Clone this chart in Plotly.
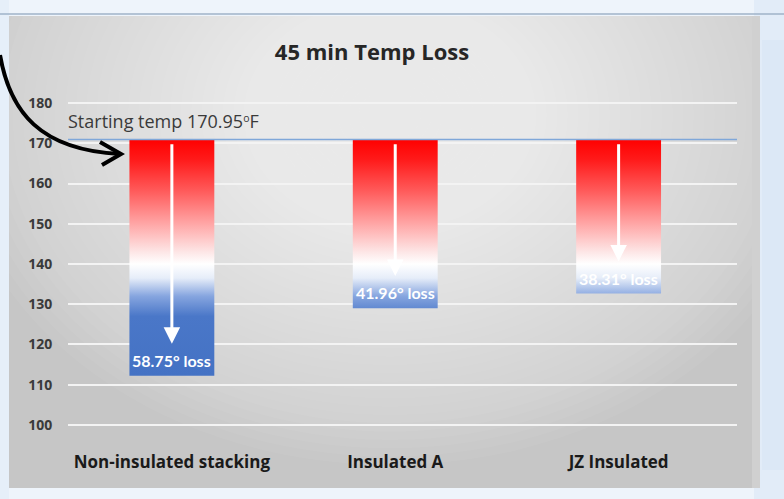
import plotly.graph_objects as go

# data
categories = ["Non-insulated stacking", "Insulated A", "JZ Insulated"]
start_temp = 170.95
temp_loss = [58.75, 41.96, 38.31]
end_temps = [round(start_temp - v, 2) for v in temp_loss]
y_ticks = [100, 110, 120, 130, 140, 150, 160, 170, 180]

W, H = 784, 499
M = dict(l=68, r=47, t=83, b=54)
FONT = "Open Sans"


def pp(x, y):
    """pixel -> paper coords (for decorations only)"""
    pw = W - M["l"] - M["r"]
    ph = H - M["t"] - M["b"]
    return (x - M["l"]) / pw, (H - M["b"] - y) / ph


def rect(x0, y0, x1, y1, color, opacity=1.0):
    a, b = pp(x0, y1)
    c, d = pp(x1, y0)
    return dict(type="rect", xref="paper", yref="paper", x0=a, y0=b, x1=c, y1=d,
                fillcolor=color, opacity=opacity, line_width=0, layer="below")


# gradient stops by temperature (red hot -> white -> blue)
lo, hi = min(end_temps), start_temp
grad_stops = [
    (lo, "#4472c4"), (127, "#4a77c8"), (132, "#86a5df"), (136.5, "#e6edf9"),
    (140, "#ffffff"), (143, "#fde6e6"), (150, "#ffa6a6"), (158, "#ff5c5c"),
    (166, "#ff1a1a"), (hi, "#ff0000"),
]
colorscale = [[(t - lo) / (hi - lo), c] for t, c in grad_stops]

fig = go.Figure()

bar_w = 0.38
for i, (cat, end) in enumerate(zip(categories, end_temps)):
    x0, x1 = i - bar_w / 2, i + bar_w / 2
    fig.add_trace(go.Scatter(
        x=[x0, x1, x1, x0, x0], y=[end, end, start_temp, start_temp, end],
        mode="lines", fill="toself", name=cat,
        line=dict(width=0, color="rgba(0,0,0,0)"),
        fillgradient=dict(type="vertical", colorscale=colorscale, start=lo, stop=hi),
        hoverinfo="skip", showlegend=False,
    ))

shapes = []
# panel background with soft highlight
shapes.append(rect(9, 16, 754, 488, "#c6c6c6"))
n_glow = 40
for k in range(n_glow):
    f = 1 - k / (n_glow + 2)
    cx, cy = 390, 115
    rx, ry = 440 * f, 350 * f
    a, b = pp(cx - rx, cy + ry)
    c, d = pp(cx + rx, cy - ry)
    shapes.append(dict(type="circle", xref="paper", yref="paper", x0=a, y0=b, x1=c, y1=d,
                       fillcolor="white", opacity=0.042, line_width=0, layer="below"))
# outer window frame
shapes += [
    rect(-10, -10, 800, 16, "#eef4fb"),
    rect(-10, 488, 800, 510, "#eef4fb"),
    rect(-10, -10, 9, 510, "#e6eff9"),
    rect(754, -10, 800, 510, "#e2ecf8"),
    rect(752, 16, 760, 488, "#d0d0d0"),
    rect(762, 40, 784, 470, "#dce8f6"),
]
a, b = pp(0, 14)
c, _ = pp(784, 14)
shapes.append(dict(type="line", xref="paper", yref="paper", x0=a, y0=b, x1=c, y1=b,
                   line=dict(color="#9fb3c8", width=1.5), layer="below"))

# starting temperature line
shapes.append(dict(type="line", xref="paper", yref="paper", x0=0, x1=1, y0=0, y1=0,
                   line=dict(color="#7fa7d9", width=1.5)))
shapes[-1].update(yref="y", y0=start_temp, y1=start_temp)

# hand-drawn pointer arrow
pts = [pp(0, 55), pp(10, 112), pp(40, 150), pp(120, 154)]
path = "M {:.4f},{:.4f} C {:.4f},{:.4f} {:.4f},{:.4f} {:.4f},{:.4f}".format(*[v for p in pts for v in p])
shapes.append(dict(type="path", xref="paper", yref="paper", path=path,
                   line=dict(color="black", width=4)))
hd = [pp(100, 142), pp(121, 154), pp(102, 165)]
head = "M {:.4f},{:.4f} L {:.4f},{:.4f} L {:.4f},{:.4f}".format(*[v for p in hd for v in p])
shapes.append(dict(type="path", xref="paper", yref="paper", path=head,
                   line=dict(color="black", width=4)))

annotations = [
    dict(x=0, xref="paper", y=start_temp, yref="y", xanchor="left", yanchor="bottom",
         xshift=-2, yshift=5, showarrow=False,
         text="Starting temp 170.95<span style='font-size:15px'><sup>o</sup></span>F",
         font=dict(family=FONT, size=18, color="#3a3a3a")),
]
for i, (loss, end) in enumerate(zip(temp_loss, end_temps)):
    annotations.append(dict(
        x=i, y=end + 8, ax=i, ay=start_temp - 0.8, xref="x", yref="y", axref="x", ayref="y",
        showarrow=True, arrowhead=2, arrowsize=1.1, arrowwidth=3, arrowcolor="white", text="",
    ))
    annotations.append(dict(
        x=i, y=end, xref="x", yref="y", yanchor="bottom", yshift=4, showarrow=False,
        text=f"<b>{loss:.2f}° loss</b>", font=dict(family="Lato", size=16, color="white"),
    ))

fig.update_layout(
    width=W, height=H, margin=M,
    paper_bgcolor="#eef4fb", plot_bgcolor="rgba(0,0,0,0)",
    title=dict(text="<b>45 min Temp Loss</b>", x=372 / W, xanchor="center",
               y=1 - 52 / H, yanchor="middle", yref="container",
               font=dict(family=FONT, size=22, color="#262626")),
    xaxis=dict(range=[-0.465, 2.53], tickvals=list(range(len(categories))), ticktext=categories,
               showgrid=False, zeroline=False, showline=False, automargin=False,
               ticks="outside", ticklen=2, tickcolor="rgba(0,0,0,0)",
               tickfont=dict(family=FONT, size=17, color="#1a1a1a", weight="bold")),
    yaxis=dict(range=[95, 185], tickvals=y_ticks, showgrid=True, gridcolor="#f3f3f3", gridwidth=2,
               zeroline=False, showline=False, automargin=False,
               ticks="outside", ticklen=12, tickcolor="rgba(0,0,0,0)",
               tickfont=dict(family=FONT, size=14, color="#3a3a3a", weight="bold")),
    shapes=shapes, annotations=annotations, showlegend=False,
)

# drop the default page margin so the figure sits at the window origin
fig.write_html("out.html", config={"displayModeBar": False},
               post_script="document.body.style.margin='0';")
